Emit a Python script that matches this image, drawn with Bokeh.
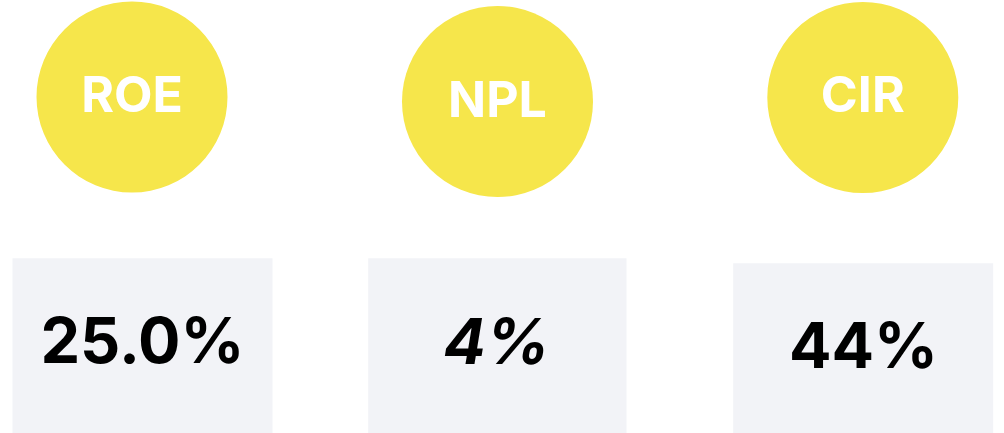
from bokeh.plotting import figure
from bokeh.models import Range1d, ColumnDataSource
from bokeh.core.properties import value
from bokeh.embed import file_html
from bokeh.resources import INLINE

# ---- data ----
metrics = ["ROE", "NPL", "CIR"]
metric_values = ["25.0%", "4%", "44%"]
value_styles = ["bold", "bold italic", "bold"]

# ---- layout (pixel coordinates of the page) ----
circle_x = [131.5, 497.0, 862.3]
circle_y = [96.5, 101.0, 97.0]
circle_r = 95.5
label_size = 50
label_base = [113.3 - 20, 118.3 - 20, 113.3 - 20]

box_left = [12.0, 367.7, 732.7]
box_right = [272.0, 626.0, 992.7]
box_top = [257.7, 257.7, 262.7]
box_bottom = [440.0, 440.0, 440.0]
value_size = 63
value_x = [142.0, 496.0, 863.0]
value_base = [366.7 - 27, 367.7 - 27, 371.7 - 27]

YELLOW = "#F6E64B"
GREY = "#F2F3F7"

p = figure(width=1004, height=433, x_range=Range1d(0, 1004), y_range=Range1d(433, 0),
           output_backend="svg", toolbar_location=None, min_border=0,
           margin=(0, 0, 0, 0))
p.axis.visible = False
p.grid.visible = False
p.outline_line_color = None
p.background_fill_color = "white"
p.border_fill_color = "white"

src_c = ColumnDataSource(dict(x=circle_x, y=circle_y, ly=label_base, label=metrics))
p.circle(x="x", y="y", radius=circle_r, source=src_c, fill_color=YELLOW, line_color=None)
p.text(x="x", y="ly", text="label", source=src_c, text_color="white",
       text_font=value("Inter"), text_font_style="bold", text_font_size=f"{label_size}px",
       text_align="center", text_baseline="alphabetic")

src_b = ColumnDataSource(dict(left=box_left, right=box_right, top=box_top, bottom=box_bottom,
                              vx=value_x, vy=value_base, val=metric_values, style=value_styles))
p.quad(left="left", right="right", top="top", bottom="bottom", source=src_b,
       fill_color=GREY, line_color=None)
p.text(x="vx", y="vy", text="val", source=src_b, text_color="black",
       text_font=value("Inter"), text_font_style="style", text_font_size=f"{value_size}px",
       text_align="center", text_baseline="alphabetic")

open("out.html", "w").write(file_html(p, INLINE))
